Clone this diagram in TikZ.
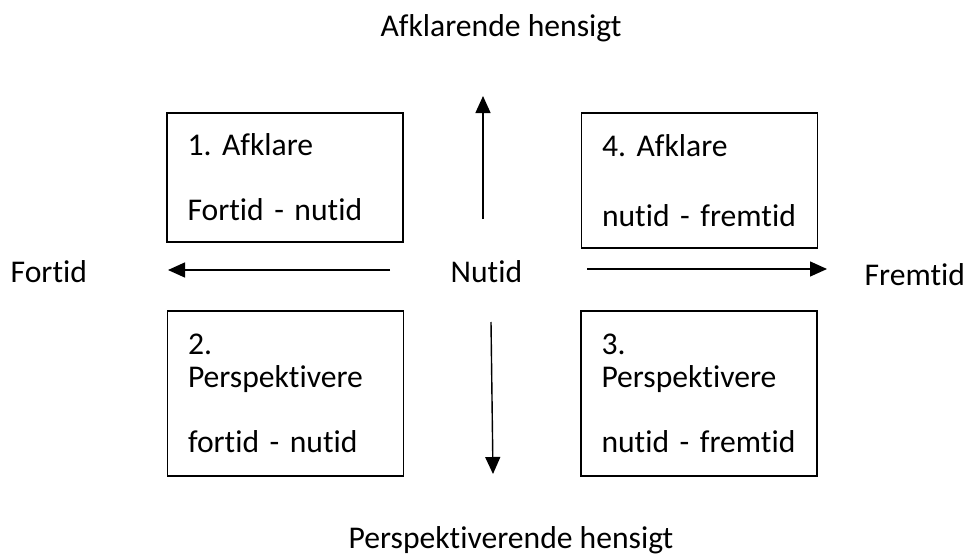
\documentclass[tikz,border=0pt]{standalone}
\usepackage{fontspec}
\setmainfont{Carlito}[Ligatures=NoCommon]
\usetikzlibrary{arrows.meta}

\begin{document}
\frenchspacing
\begin{tikzpicture}[->, >={Triangle[length=0.34cm,width=0.30cm]}, thick, font=\fontsize{18}{18.8}\selectfont]
    \useasboundingbox (0,0) rectangle (19.36,11.10);
    % Hensigt
    \node[anchor=base, inner sep=0pt] (AH_title) at (10.02,10.38) {Afklarende hensigt};
    \node[anchor=base, inner sep=0pt] (PH_title) at (10.22,0.14) {Perspektiverende hensigt};
    % Tid
    \node[anchor=base west, inner sep=0pt] (Fortid) at (0.20,5.46) {Fortid};
    \node[anchor=base west, inner sep=0pt] (Nutid) at (9.00,5.46) {Nutid};
    \node[anchor=base west, inner sep=0pt] (Fremtid) at (17.28,5.40) {Fremtid};

    % Felter
    \node[draw, line width=1pt, minimum width=4.72cm, minimum height=2.58cm, text width=3.9cm, inner xsep=0.41cm, align=left] (B1) at (5.70,7.55) {1. Afklare\\[0.64cm]Fortid - nutid};
    \node[draw, line width=1pt, minimum width=4.72cm, minimum height=3.30cm, text width=3.9cm, inner xsep=0.41cm, align=left] (B2) at (5.71,3.23) {2.\\Perspektivere\\[0.64cm]fortid - nutid};
    \node[draw, line width=1pt, minimum width=4.72cm, minimum height=3.30cm, text width=3.9cm, inner xsep=0.41cm, align=left] (B3) at (13.98,3.23) {3.\\Perspektivere\\[0.64cm]nutid - fremtid};
    \node[draw, line width=1pt, minimum width=4.72cm, minimum height=2.70cm, text width=3.9cm, inner xsep=0.41cm, align=left] (B4) at (13.99,7.49) {4. Afklare\\[0.74cm]nutid - fremtid};

    \coordinate (up_s) at (9.66,6.72); \coordinate (up_e) at (9.66,9.18);
    \coordinate (left_s) at (7.80,5.70); \coordinate (left_e) at (3.36,5.70);
    \coordinate (right_s) at (11.74,5.72); \coordinate (right_e) at (16.54,5.72);
    \coordinate (down_s) at (9.82,4.66); \coordinate (down_e) at (9.86,1.62);

    \draw (up_s) -- (up_e); \draw (left_s) -- (left_e);
    \draw (right_s) -- (right_e); \draw (down_s) -- (down_e);
\end{tikzpicture}
\end{document}
